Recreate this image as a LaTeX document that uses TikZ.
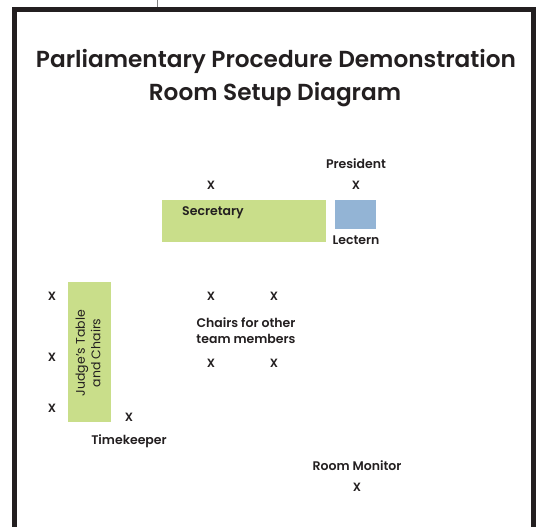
\documentclass[tikz,border=0pt]{standalone}
\usepackage{fontspec}
\setmainfont{Poppins}[BoldFont={Poppins SemiBold}]
\definecolor{ink}{HTML}{231F20}
\definecolor{tablegreen}{HTML}{C9DE8A}
\definecolor{lecternblue}{HTML}{93B4D5}
\begin{document}
\begin{tikzpicture}[x=1pt,y=-1pt,
  lbl/.style={font=\fontsize{12.5}{16}\selectfont\bfseries, text=ink, inner sep=0pt},
  chair/.style={font=\fontsize{12}{14}\selectfont\bfseries, text=ink, inner sep=0pt},
  titlet/.style={font=\fontsize{23.2}{26}\selectfont\bfseries, text=ink, inner sep=0pt, anchor=base},
  frame/.style={line width=5pt, draw=ink}
]
\useasboundingbox (0,0) rectangle (541,527);
% frame
\draw[frame] (14.5,527) -- (14.5,9.5) -- (533,9.5) -- (533,527);
\coordinate (tt) at (157,0);
\coordinate (tb) at (157,7);
\draw[line width=0.8pt, draw=gray] (tt) -- (tb);
% title
\node[titlet] (title1) at (276,68) {Parliamentary Procedure Demonstration};
\node[titlet] (title2) at (275,100) {Room Setup Diagram};
% tables
\fill[tablegreen] (162,200) rectangle (326,242);
\node[inner sep=0pt, minimum width=164pt, minimum height=42pt] (sectable) at (244,221) {};
\fill[lecternblue] (335,200) rectangle (376,229);
\node[inner sep=0pt, minimum width=41pt, minimum height=29pt] (lectern) at (355.5,214.5) {};
\fill[tablegreen] (68,282) rectangle (111,422);
\node[inner sep=0pt, minimum width=43pt, minimum height=140pt] (judge) at (89.5,352) {};
% labels
\node[lbl, anchor=base] (pres) at (356,168) {President};
\node[lbl, anchor=base west] (sec) at (182,215) {Secretary};
\node[lbl, anchor=base] (lect) at (356,244) {Lectern};
\node[font=\fontsize{12.5}{15.5}\selectfont, text=ink, rotate=90, align=center, inner sep=0pt] (judgetxt) at (88,353) {Judge’s Table\\and Chairs};
\node[lbl, anchor=base, align=center] (chairs) at (246,343) {Chairs for other\\team members};
\node[lbl, anchor=base] (time) at (129,444) {Timekeeper};
\node[lbl, anchor=base] (mon) at (357,470) {Room Monitor};
% chairs X
\node[chair] (xsec) at (211,185) {X};
\node[chair] (xpres) at (356,185) {X};
\node[chair] (xj1) at (52,296) {X};
\node[chair] (xj2) at (52,357) {X};
\node[chair] (xj3) at (52,408) {X};
\node[chair] (xtime) at (129,417) {X};
\node[chair] (xc1) at (211,296) {X};
\node[chair] (xc2) at (274,296) {X};
\node[chair] (xc3) at (211,363) {X};
\node[chair] (xc4) at (274,363) {X};
\node[chair] (xmon) at (357,487) {X};
\end{tikzpicture}
\end{document}
